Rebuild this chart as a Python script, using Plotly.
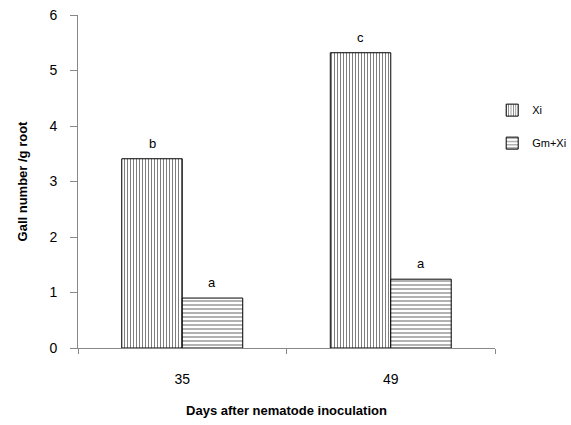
import plotly.graph_objects as go

days = ["35", "49"]
xi_values = [3.41, 5.32]
gmxi_values = [0.90, 1.24]
xi_letters = ["b", "c"]
gmxi_letters = ["a", "a"]

font_family = "Liberation Sans"

fig = go.Figure()
fig.add_trace(go.Bar(
    x=days, y=xi_values, name="Xi", legendgroup="xi",
    marker=dict(color="white", line=dict(color="black", width=1),
                pattern=dict(shape="|", fgcolor="black", bgcolor="white", size=3, solidity=0.35)),
))
fig.add_trace(go.Bar(
    x=days, y=gmxi_values, name="Gm+Xi", legendgroup="gmxi",
    marker=dict(color="white", line=dict(color="black", width=1),
                pattern=dict(shape="-", fgcolor="black", bgcolor="white", size=4, solidity=0.3)),
))

# significance letters above each bar (category index, bar half-offset in pixels)
for vals, letters, shift in [(xi_values, xi_letters, -30), (gmxi_values, gmxi_letters, 30)]:
    for i, (v, t) in enumerate(zip(vals, letters)):
        fig.add_annotation(x=i, y=v, text=t, showarrow=False, xshift=shift,
                           yanchor="bottom", yshift=6, font=dict(size=13, color="black"))

fig.update_layout(
    width=571, height=425,
    margin=dict(l=78, r=76, t=15, b=77, autoexpand=False),
    paper_bgcolor="white", plot_bgcolor="white",
    barmode="group", bargap=0.42, bargroupgap=0,
    font=dict(family=font_family, size=13, color="black"),
    showlegend=True,
    legend=dict(x=0.862, y=0.775, xref="container", yref="container", xanchor="left", yanchor="top",
                font=dict(size=11), tracegroupgap=14, itemwidth=30,
                bgcolor="rgba(0,0,0,0)"),
    xaxis=dict(
        type="category", range=[-0.5, 1.5],
        showline=True, linecolor="#888888", linewidth=1,
        ticks="outside", tickson="boundaries", ticklen=5, tickcolor="#888888",
        tickfont=dict(size=14), showgrid=False, ticklabelstandoff=18,
        title=dict(text="<b>Days after nematode inoculation</b>", font=dict(size=13), standoff=20),
    ),
    yaxis=dict(
        range=[0, 6], dtick=1, showline=True, linecolor="#888888", linewidth=1,
        ticks="outside", ticklen=7, tickcolor="#888888",
        tickfont=dict(size=14), showgrid=False, zeroline=False, ticklabelstandoff=10,
        title=dict(text="<b>Gall number /g root</b>", font=dict(size=13), standoff=18),
    ),
)

fig.write_html("out.html")
